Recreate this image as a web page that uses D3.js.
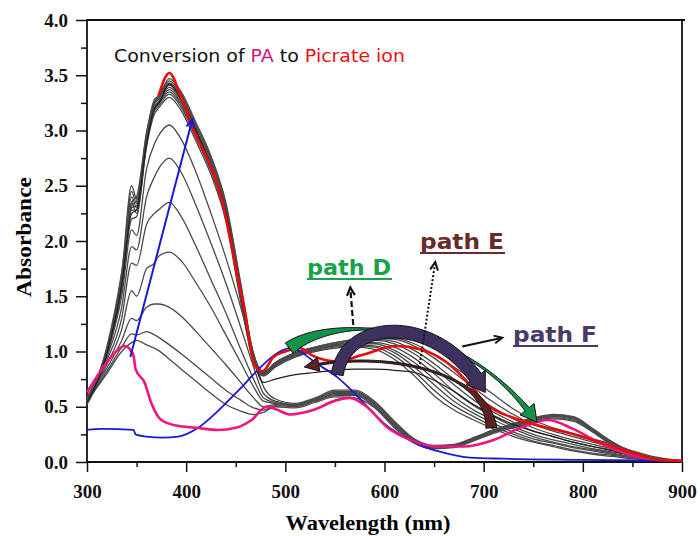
<!DOCTYPE html>
<html>
<head>
<meta charset="utf-8">
<script src="https://cdn.jsdelivr.net/npm/d3@7"></script>
<style>
  body { margin: 0; background: #fff; }
  svg { display: block; }
</style>
</head>
<body>
<svg width="700" height="536"></svg>
<script>
(function (d3) {
  'use strict';

  // Shared wavelength grid (nm) for the grey spectra
  const wavelengths = [300, 320, 335, 345, 350, 360, 368, 372, 383, 395, 410, 425, 440, 455, 468,
    478, 490, 510, 530, 550, 570, 590, 610, 630, 650, 670, 690, 710, 730, 750, 770, 790, 810, 830, 850, 870, 900];

  // Spectra with low visible band (UV band grows, visible stays near 0.6)
  const greyA1 = [0.55, 0.80, 1.00, 1.08, 1.10, 1.06, 1.03, 1.01, 0.93, 0.84, 0.73, 0.62, 0.52, 0.46, 0.43, 0.45, 0.50, 0.49, 0.54, 0.59, 0.58, 0.49, 0.31, 0.17, 0.12, 0.13, 0.19, 0.26, 0.31, 0.36, 0.39, 0.37, 0.27, 0.15, 0.07, 0.03, 0.01];
  const greyA2 = [0.55, 0.82, 1.04, 1.16, 1.15, 1.18, 1.15, 1.13, 1.06, 0.98, 0.87, 0.76, 0.65, 0.56, 0.49, 0.47, 0.51, 0.50, 0.55, 0.60, 0.60, 0.50, 0.32, 0.18, 0.13, 0.14, 0.20, 0.27, 0.32, 0.37, 0.40, 0.38, 0.28, 0.16, 0.08, 0.03, 0.01];
  const greyA3 = [0.56, 0.85, 1.10, 1.30, 1.28, 1.40, 1.43, 1.43, 1.40, 1.32, 1.18, 1.03, 0.88, 0.72, 0.58, 0.50, 0.52, 0.51, 0.56, 0.61, 0.61, 0.51, 0.33, 0.19, 0.13, 0.14, 0.20, 0.27, 0.33, 0.38, 0.41, 0.39, 0.28, 0.16, 0.08, 0.03, 0.01];
  const greyA4 = [0.57, 0.88, 1.20, 1.55, 1.50, 1.75, 1.80, 1.86, 1.90, 1.82, 1.62, 1.40, 1.15, 0.90, 0.68, 0.55, 0.53, 0.51, 0.56, 0.62, 0.62, 0.52, 0.34, 0.19, 0.14, 0.15, 0.21, 0.28, 0.33, 0.38, 0.41, 0.40, 0.29, 0.17, 0.08, 0.03, 0.01];
  const greyA5 = [0.58, 0.92, 1.30, 1.80, 1.78, 2.15, 2.25, 2.28, 2.35, 2.22, 1.95, 1.65, 1.35, 1.02, 0.75, 0.58, 0.54, 0.52, 0.57, 0.63, 0.63, 0.53, 0.35, 0.20, 0.14, 0.15, 0.21, 0.28, 0.34, 0.39, 0.42, 0.40, 0.29, 0.17, 0.08, 0.04, 0.01];
  const greyA6 = [0.58, 0.95, 1.40, 1.95, 1.92, 2.40, 2.58, 2.65, 2.75, 2.62, 2.32, 1.98, 1.62, 1.22, 0.86, 0.62, 0.55, 0.52, 0.57, 0.64, 0.64, 0.54, 0.36, 0.20, 0.14, 0.15, 0.22, 0.29, 0.34, 0.39, 0.42, 0.41, 0.30, 0.18, 0.09, 0.04, 0.01];
  const greyA7 = [0.59, 0.98, 1.50, 2.10, 2.05, 2.65, 2.88, 2.95, 3.05, 2.92, 2.62, 2.25, 1.85, 1.40, 0.98, 0.68, 0.57, 0.53, 0.58, 0.65, 0.65, 0.55, 0.37, 0.21, 0.15, 0.16, 0.22, 0.29, 0.35, 0.40, 0.43, 0.41, 0.30, 0.18, 0.09, 0.04, 0.01];

  // Spectra with high UV band and the visible band near 1.0 (fan at 620-760 nm)
  const greyF1 = [0.52, 0.95, 1.55, 2.20, 2.22, 2.85, 3.15, 3.20, 3.30, 3.18, 2.90, 2.60, 2.18, 1.45, 0.90, 0.78, 0.86, 0.95, 1.00, 1.03, 1.04, 1.02, 0.93, 0.78, 0.60, 0.47, 0.38, 0.30, 0.23, 0.18, 0.14, 0.10, 0.07, 0.05, 0.03, 0.02, 0.01];
  const greyF2 = [0.53, 0.97, 1.58, 2.35, 2.25, 2.88, 3.18, 3.22, 3.33, 3.21, 2.93, 2.63, 2.21, 1.48, 0.91, 0.78, 0.87, 0.96, 1.01, 1.04, 1.05, 1.04, 0.96, 0.82, 0.65, 0.51, 0.41, 0.32, 0.25, 0.19, 0.15, 0.11, 0.08, 0.06, 0.04, 0.02, 0.01];
  const greyF3 = [0.54, 0.98, 1.60, 2.28, 2.28, 2.88, 3.20, 3.24, 3.35, 3.23, 2.95, 2.65, 2.23, 1.50, 0.92, 0.79, 0.87, 0.96, 1.01, 1.05, 1.06, 1.05, 0.99, 0.86, 0.70, 0.55, 0.44, 0.35, 0.27, 0.21, 0.17, 0.13, 0.10, 0.07, 0.04, 0.02, 0.01];
  const greyF4 = [0.54, 0.99, 1.62, 2.40, 2.30, 2.90, 3.21, 3.25, 3.37, 3.25, 2.97, 2.67, 2.25, 1.52, 0.93, 0.79, 0.88, 0.97, 1.02, 1.05, 1.07, 1.07, 1.01, 0.90, 0.75, 0.59, 0.47, 0.38, 0.30, 0.23, 0.18, 0.14, 0.11, 0.08, 0.05, 0.03, 0.01];
  const greyF5 = [0.55, 1.00, 1.63, 2.30, 2.32, 2.92, 3.22, 3.26, 3.39, 3.27, 2.99, 2.69, 2.27, 1.54, 0.94, 0.80, 0.88, 0.97, 1.02, 1.06, 1.08, 1.08, 1.04, 0.94, 0.80, 0.64, 0.51, 0.41, 0.32, 0.25, 0.20, 0.16, 0.12, 0.09, 0.06, 0.03, 0.01];
  const greyF6 = [0.55, 1.01, 1.65, 2.45, 2.34, 2.93, 3.24, 3.28, 3.41, 3.29, 3.01, 2.71, 2.29, 1.56, 0.95, 0.80, 0.89, 0.98, 1.03, 1.06, 1.09, 1.10, 1.07, 0.98, 0.85, 0.70, 0.56, 0.45, 0.36, 0.28, 0.23, 0.18, 0.14, 0.11, 0.07, 0.03, 0.01];
  const greyF7 = [0.56, 1.02, 1.67, 2.32, 2.36, 2.95, 3.25, 3.29, 3.43, 3.31, 3.03, 2.73, 2.31, 1.58, 0.96, 0.81, 0.89, 0.98, 1.03, 1.07, 1.10, 1.11, 1.09, 1.01, 0.89, 0.75, 0.61, 0.49, 0.39, 0.31, 0.25, 0.20, 0.16, 0.12, 0.08, 0.04, 0.01];
  const greyF8 = [0.56, 1.03, 1.70, 2.50, 2.38, 2.97, 3.26, 3.30, 3.45, 3.33, 3.05, 2.75, 2.33, 1.60, 0.97, 0.81, 0.90, 0.99, 1.04, 1.08, 1.11, 1.12, 1.11, 1.05, 0.94, 0.81, 0.67, 0.54, 0.43, 0.34, 0.28, 0.23, 0.18, 0.14, 0.09, 0.04, 0.01];
  const greyF9 = [0.57, 1.04, 1.72, 2.35, 2.40, 2.98, 3.28, 3.31, 3.47, 3.35, 3.07, 2.77, 2.35, 1.62, 0.98, 0.82, 0.90, 0.99, 1.04, 1.08, 1.11, 1.12, 1.12, 1.07, 0.97, 0.86, 0.74, 0.61, 0.48, 0.38, 0.31, 0.26, 0.21, 0.16, 0.10, 0.05, 0.01];

  // One darker spectrum (flat visible band near 0.83)
  const darkMid = [0.54, 0.98, 1.60, 2.25, 2.28, 2.88, 3.20, 3.24, 3.42, 3.28, 3.00, 2.68, 2.26, 1.52, 0.93, 0.72, 0.75, 0.79, 0.81, 0.83, 0.84, 0.84, 0.83, 0.81, 0.74, 0.64, 0.52, 0.42, 0.34, 0.28, 0.23, 0.18, 0.14, 0.10, 0.06, 0.03, 0.01];

  // Picrate ion (red)
  const redWl = [372, 383, 395, 410, 425, 436, 446, 453, 460, 465, 470, 477, 488, 500, 515, 528, 552, 578, 612, 636, 663, 686, 703, 730, 747, 787, 820, 855, 875, 900];
  const redAbs = [3.31, 3.52, 3.30, 2.95, 2.67, 2.37, 1.95, 1.62, 1.32, 1.02, 0.86, 0.82, 0.95, 1.00, 1.03, 0.96, 0.91, 0.97, 1.05, 1.02, 0.90, 0.70, 0.52, 0.40, 0.35, 0.26, 0.17, 0.07, 0.02, 0.01];

  // PA (magenta)
  const pinkWl = [300, 315, 328, 338, 345, 347, 349, 358, 365, 375, 390, 410, 432, 450, 466, 481, 490, 505, 528, 552, 565, 582, 602, 626, 653, 680, 710, 740, 765, 790, 820, 850, 875, 900];
  const pinkAbs = [0.63, 0.84, 0.99, 1.05, 1.00, 0.96, 0.84, 0.72, 0.53, 0.38, 0.33, 0.31, 0.29, 0.31, 0.38, 0.50, 0.48, 0.43, 0.47, 0.56, 0.58, 0.50, 0.32, 0.20, 0.14, 0.14, 0.20, 0.32, 0.38, 0.30, 0.16, 0.06, 0.02, 0.01];

  // Blue spectrum
  const blueWl = [300, 315, 347, 349, 360, 376, 392, 412, 433, 453, 473, 485, 497, 505, 515, 530, 552, 570, 586, 602, 619, 636, 653, 686, 720, 800, 900];
  const blueAbs = [0.29, 0.30, 0.29, 0.25, 0.23, 0.22, 0.23, 0.31, 0.47, 0.65, 0.84, 0.94, 1.01, 1.03, 1.00, 0.90, 0.77, 0.62, 0.47, 0.33, 0.23, 0.15, 0.10, 0.04, 0.03, 0.02, 0.01];

  // Axis ticks
  const xTicks = [300, 400, 500, 600, 700, 800, 900];
  const xMinorTicks = [350, 450, 550, 650, 750, 850];
  const yTicks = [0, 0.5, 1.0, 1.5, 2.0, 2.5, 3.0, 3.5, 4.0];
  const yMinorTicks = [0.25, 0.75, 1.25, 1.75, 2.25, 2.75, 3.25, 3.75];

  // Annotation arrows, control points in (nm, absorbance)
  const blueArrow = [[343.7, 0.95], [406.2, 3.10]];
  const arrowD = [[504.0, 1.03], [545.4, 1.32], [676.5, 1.34], [753.8, 0.36]];
  const arrowE = [[707.7, 0.31], [703.6, 0.82], [600.8, 1.02], [519.1, 0.86]];
  const arrowF = [[552.4, 0.79], [560.4, 1.31], [656.2, 1.36], [701.6, 0.63]];
  const dashedArrow = [[568.5, 1.24], [565.5, 1.58]];
  const dottedArrow = [[635.0, 0.85], [651.2, 1.81]];
  const solidArrow = [[678.4, 1.045], [718.8, 1.125]];

  const svg = d3.select('svg');

  const x = d3.scaleLinear().domain([300, 900]).range([87, 682]);
  const y = d3.scaleLinear().domain([0, 4]).range([462, 20]);

  const line = d3.line()
    .x(d => x(d[0]))
    .y(d => y(d[1]))
    .curve(d3.curveMonotoneX);

  const serif = '"Liberation Serif", "Times New Roman", serif';
  const comic = '"DejaVu Sans", sans-serif';

  // ---- axes ----
  const xAxisG = svg.append('g').attr('transform', `translate(0,${y(0)})`);
  xAxisG.call(d3.axisBottom(x).tickValues(xTicks).tickSize(10).tickPadding(13).tickFormat(d3.format('d')));
  xAxisG.append('g').call(d3.axisBottom(x).tickValues(xMinorTicks).tickSize(5).tickFormat(''));

  const yAxisG = svg.append('g').attr('transform', `translate(${x(300)},0)`);
  yAxisG.call(d3.axisLeft(y).tickValues(yTicks).tickSize(11).tickPadding(8).tickFormat(d3.format('.1f')));
  yAxisG.append('g').call(d3.axisLeft(y).tickValues(yMinorTicks).tickSize(6).tickFormat(''));

  svg.selectAll('.domain').remove();
  svg.selectAll('.tick line').attr('stroke', '#111').attr('stroke-width', 1.5);
  svg.selectAll('.tick text')
    .attr('font-family', serif)
    .attr('font-weight', 'bold')
    .attr('font-size', 19)
    .attr('fill', '#111');

  // frame (left, bottom, right, top)
  svg.append('path')
    .attr('d', `M${x(300)},${y(0)} L${x(300)},${y(4)} L${x(900) + 3},${y(4)} M${x(900)},${y(4)} L${x(900)},${y(0)} L${x(300)},${y(0)}`)
    .attr('fill', 'none')
    .attr('stroke', '#111')
    .attr('stroke-width', 1.8);

  // axis titles
  svg.append('text')
    .attr('transform', `translate(31,237) rotate(-90)`)
    .attr('text-anchor', 'middle')
    .attr('font-family', serif)
    .attr('font-weight', 'bold')
    .attr('font-size', 22)
    .attr('textLength', 120)
    .attr('lengthAdjust', 'spacingAndGlyphs')
    .text('Absorbance');

  svg.append('text')
    .attr('x', 368)
    .attr('y', 530)
    .attr('text-anchor', 'middle')
    .attr('font-family', serif)
    .attr('font-weight', 'bold')
    .attr('font-size', 22)
    .attr('textLength', 165)
    .attr('lengthAdjust', 'spacingAndGlyphs')
    .text('Wavelength (nm)');

  // ---- spectra ----
  const spectraG = svg.append('g').attr('fill', 'none');

  const fan = [greyF1, greyF2, greyF3, greyF4, greyF5, greyF6, greyF7, greyF8, greyF9];
  const lowBand = [greyA1, greyA2, greyA3, greyA4, greyA5, greyA6, greyA7];

  spectraG.selectAll('.grey')
    .data(fan.concat(lowBand))
    .enter().append('path')
    .attr('class', 'grey')
    .attr('d', vals => line(vals.map((v, i) => [wavelengths[i], v])))
    .attr('stroke', '#4a4a4a')
    .attr('stroke-width', 1.3);

  spectraG.append('path')
    .attr('d', line(darkMid.map((v, i) => [wavelengths[i], v])))
    .attr('stroke', '#1e1e1e')
    .attr('stroke-width', 1.2);

  spectraG.append('path')
    .attr('d', line(blueWl.map((w, i) => [w, blueAbs[i]])))
    .attr('stroke', '#1a1ad2')
    .attr('stroke-width', 1.8);

  spectraG.append('path')
    .attr('d', line(pinkWl.map((w, i) => [w, pinkAbs[i]])))
    .attr('stroke', '#f0147e')
    .attr('stroke-width', 2.6);

  spectraG.append('path')
    .attr('d', line(redWl.map((w, i) => [w, redAbs[i]])))
    .attr('stroke', '#e80c0c')
    .attr('stroke-width', 2.6);

  // ---- annotations ----
  const bez = (p, t) => {
    const u = 1 - t;
    return [0, 1].map(k => u * u * u * p[0][k] + 3 * u * u * t * p[1][k] + 3 * u * t * t * p[2][k] + t * t * t * p[3][k]);
  };

  // tapered curved arrow outline along a cubic bezier
  const curvedArrow = (ctrl, widthAt, headLen, headHalf) => {
    const pts = ctrl.map(d => [x(d[0]), y(d[1])]);
    const n = 120;
    const samples = d3.range(n + 1).map(i => bez(pts, i / n));
    const len = [0];
    for (let i = 1; i <= n; i++) {
      len.push(len[i - 1] + Math.hypot(samples[i][0] - samples[i - 1][0], samples[i][1] - samples[i - 1][1]));
    }
    const total = len[n];
    const left = [];
    const right = [];
    let base;
    for (let i = 0; i <= n; i++) {
      if (len[i] > total - headLen) break;
      const a = samples[Math.max(i - 1, 0)];
      const b = samples[Math.min(i + 1, n)];
      const m = Math.hypot(b[0] - a[0], b[1] - a[1]);
      const nx = -(b[1] - a[1]) / m;
      const ny = (b[0] - a[0]) / m;
      const w = widthAt(len[i] / total) / 2;
      left.push([samples[i][0] + nx * w, samples[i][1] + ny * w]);
      right.push([samples[i][0] - nx * w, samples[i][1] - ny * w]);
      base = { p: samples[i], nx, ny };
    }
    const tip = samples[n];
    const poly = left
      .concat([[base.p[0] + base.nx * headHalf, base.p[1] + base.ny * headHalf], tip,
        [base.p[0] - base.nx * headHalf, base.p[1] - base.ny * headHalf]])
      .concat(right.reverse());
    return 'M' + poly.map(p => p.join(',')).join('L') + 'Z';
  };

  const annG = svg.append('g');

  // path D (green)
  annG.append('path')
    .attr('d', curvedArrow(arrowD,
      t => 2.2 + 11 * Math.pow(Math.max(0, 1 - t / 0.28), 1.3) + 5 * Math.pow(Math.max(0, (t - 0.72) / 0.28), 2),
      15, 9))
    .attr('fill', '#12924a')
    .attr('stroke', '#111')
    .attr('stroke-width', 1);

  // path E (brown)
  annG.append('path')
    .attr('d', curvedArrow(arrowE,
      t => 2 + 9 * Math.pow(Math.max(0, 1 - t / 0.3), 1.4),
      13, 7))
    .attr('fill', '#5a2222')
    .attr('stroke', '#111')
    .attr('stroke-width', 1);

  // path F (purple)
  annG.append('path')
    .attr('d', curvedArrow(arrowF, t => 12 + 2 * t, 16, 12))
    .attr('fill', '#3d3160')
    .attr('stroke', '#111')
    .attr('stroke-width', 1);

  // straight arrows with open heads
  const straightArrow = (pair, color, width, dash) => {
    const [a, b] = pair.map(d => [x(d[0]), y(d[1])]);
    const ang = Math.atan2(b[1] - a[1], b[0] - a[0]);
    const hl = 9;
    const g = annG.append('g').attr('fill', 'none').attr('stroke', color).attr('stroke-width', width);
    g.append('line')
      .attr('x1', a[0]).attr('y1', a[1])
      .attr('x2', b[0]).attr('y2', b[1])
      .attr('stroke-dasharray', dash);
    g.append('path')
      .attr('d', `M${b[0] - hl * Math.cos(ang - 0.45)},${b[1] - hl * Math.sin(ang - 0.45)} L${b[0]},${b[1]} L${b[0] - hl * Math.cos(ang + 0.45)},${b[1] - hl * Math.sin(ang + 0.45)}`)
      .attr('stroke-linejoin', 'miter');
  };

  straightArrow(blueArrow, '#1a1ad2', 2, null);
  straightArrow(dashedArrow, '#111', 2.2, '6,3');
  straightArrow(dottedArrow, '#111', 2, '2,2');
  straightArrow(solidArrow, '#111', 2, null);

  // ---- texts ----
  const title = svg.append('text')
    .attr('x', 114)
    .attr('y', 62)
    .attr('font-family', comic)
    .attr('font-size', 17)
    .attr('textLength', 291)
    .attr('lengthAdjust', 'spacingAndGlyphs');
  title.append('tspan').attr('fill', '#111').text('Conversion of ');
  title.append('tspan').attr('fill', '#d0147a').text('PA');
  title.append('tspan').attr('fill', '#111').text(' to ');
  title.append('tspan').attr('fill', '#f01010').text('Picrate ion');

  const pathLabels = [
    { text: 'path D', x: 307, y: 275, color: '#16a34a' },
    { text: 'path E', x: 420, y: 249, color: '#6b2a2a' },
    { text: 'path F', x: 513, y: 342, color: '#473a66' }
  ];

  const labelG = svg.selectAll('.pathLabel').data(pathLabels).enter().append('g').attr('class', 'pathLabel');
  labelG.append('text')
    .attr('x', d => d.x)
    .attr('y', d => d.y)
    .attr('fill', d => d.color)
    .attr('font-family', comic)
    .attr('font-weight', 'bold')
    .attr('font-size', 22)
    .attr('textLength', 84)
    .attr('lengthAdjust', 'spacingAndGlyphs')
    .text(d => d.text);
  labelG.append('line')
    .attr('x1', d => d.x)
    .attr('x2', d => d.x + 85)
    .attr('y1', d => d.y + 4)
    .attr('y2', d => d.y + 4)
    .attr('stroke', d => d.color)
    .attr('stroke-width', 2);

}(d3));
</script>
</body>
</html>
